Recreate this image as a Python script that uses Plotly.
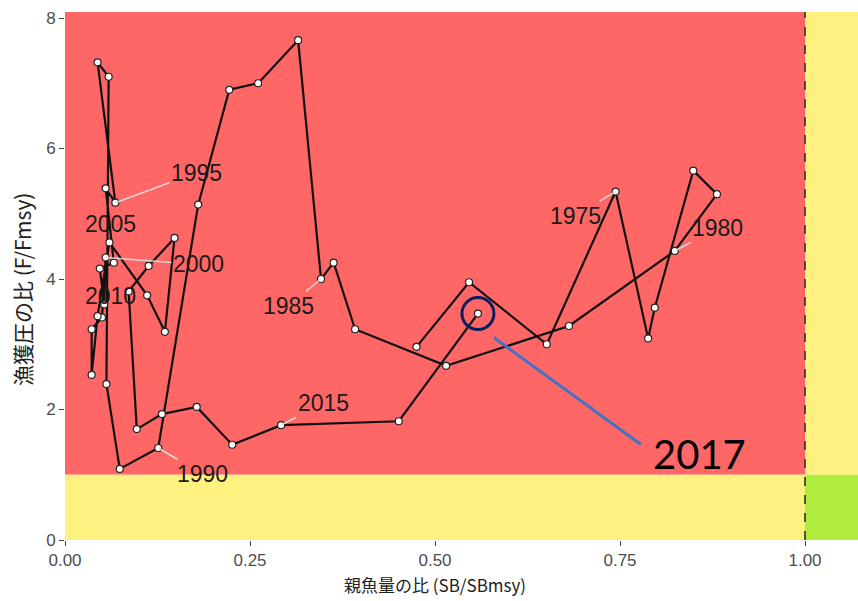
import plotly.graph_objects as go

# ---- data ----
years = list(range(1972, 2018))
sb_ratio = [0.475, 0.546, 0.651, 0.744, 0.788, 0.797, 0.849, 0.881, 0.824, 0.681,
            0.515, 0.392, 0.363, 0.346, 0.315, 0.261, 0.222, 0.180, 0.126, 0.074,
            0.056, 0.059, 0.044, 0.068, 0.055, 0.066, 0.047, 0.053, 0.055, 0.050,
            0.036, 0.036, 0.044, 0.060, 0.111, 0.135, 0.148, 0.113, 0.086, 0.097,
            0.131, 0.178, 0.226, 0.292, 0.451, 0.558]
f_ratio = [2.96, 3.95, 3.00, 5.34, 3.09, 3.56, 5.66, 5.30, 4.43, 3.28,
           2.67, 3.23, 4.25, 4.00, 7.66, 7.00, 6.90, 5.14, 1.41, 1.09,
           2.39, 7.10, 7.32, 5.17, 5.39, 4.25, 4.16, 3.61, 4.33, 3.41,
           3.23, 2.53, 3.43, 4.56, 3.75, 3.19, 4.63, 4.20, 3.81, 1.70,
           1.93, 2.04, 1.46, 1.76, 1.82, 3.47]
label_years = [1975, 1980, 1985, 1990, 1995, 2000, 2005, 2010, 2015]
x_ticks = [0.0, 0.25, 0.50, 0.75, 1.00]
x_ticklabels = ["0.00", "0.25", "0.50", "0.75", "1.00"]
y_ticks = [0, 2, 4, 6, 8]
highlight_year = 2017

# ---- styling / layout constants ----
XMAX = 1.0716
YMAX = 8.092
RED = "#FF6767"
YELLOW = "#FFF17F"
GREEN = "#B1EC3C"
LABEL_FONT = dict(family="Liberation Sans, Arial", size=23, color="#1a1a1a")

fig = go.Figure()

# background zones
fig.add_shape(type="rect", xref="x", yref="y", x0=0, x1=1, y0=1, y1=YMAX,
              fillcolor=RED, line_width=0, layer="below")
fig.add_shape(type="rect", xref="x", yref="y", x0=0, x1=1, y0=0, y1=1,
              fillcolor=YELLOW, line_width=0, layer="below")
fig.add_shape(type="rect", xref="x", yref="y", x0=1, x1=XMAX, y0=1, y1=YMAX,
              fillcolor=YELLOW, line_width=0, layer="below")
fig.add_shape(type="rect", xref="x", yref="y", x0=1, x1=XMAX, y0=0, y1=1,
              fillcolor=GREEN, line_width=0, layer="below")
fig.add_shape(type="line", xref="x", yref="y", x0=1, x1=1, y0=0, y1=YMAX,
              line=dict(color="#2a332a", width=1.6, dash="dash"), layer="below")

fig.add_trace(go.Scatter(
    x=sb_ratio, y=f_ratio, mode="lines+markers",
    line=dict(color="#111111", width=2.2),
    marker=dict(size=7, color="white", line=dict(color="#222222", width=1.2)),
    hoverinfo="skip", showlegend=False))

# year labels (ggrepel-like), offsets in pixels
label_offsets = {
    1975: (-40, 24, True),
    1980: (43, -23, True),
    1985: (-33, 27, True),
    1990: (44, 26, True),
    1995: (81, -30, True),
    2000: (93, 7, True),
    2005: (1, -18, False),
    2010: (-18, 5, False),
    2015: (42, -22, True),
}
for yr in label_years:
    i = years.index(yr)
    ax, ay, arrow = label_offsets[yr]
    if arrow:
        fig.add_annotation(x=sb_ratio[i], y=f_ratio[i], text=str(yr),
                           showarrow=True, arrowhead=0, arrowwidth=1.6,
                           arrowcolor="rgba(225,225,225,0.9)", ax=ax, ay=ay,
                           font=LABEL_FONT)
    else:
        fig.add_annotation(x=sb_ratio[i], y=f_ratio[i], text=str(yr),
                           showarrow=False, xshift=ax, yshift=-ay,
                           font=LABEL_FONT)

# highlight of latest year
hi = years.index(highlight_year)
hx, hy = sb_ratio[hi], f_ratio[hi]
fig.add_shape(type="circle", xref="x", yref="y", xsizemode="pixel", ysizemode="pixel",
              xanchor=hx, yanchor=hy, x0=-16, x1=16, y0=-16, y1=16,
              line=dict(color="#0B1F5C", width=3))
fig.add_shape(type="line", xref="x", yref="y", xsizemode="pixel", ysizemode="pixel",
              xanchor=hx, yanchor=hy, x0=16, y0=-24, x1=163, y1=-131,
              line=dict(color="#4472C4", width=3))
fig.add_annotation(x=hx, y=hy, text=str(highlight_year), showarrow=False,
                   xshift=222, yshift=-140,
                   font=dict(family="Lato, Liberation Sans", size=40, color="#000000"))

# axis titles
fig.add_annotation(xref="paper", yref="paper", x=0.4666, y=-0.0835,
                   text="親魚量の比 (SB/SBmsy)", showarrow=False, yanchor="middle",
                   font=dict(family="Noto Sans CJK JP", size=17, color="#222222"))
fig.add_annotation(xref="paper", yref="paper", x=-0.0542, y=0.4735,
                   text="漁獲圧の比 (F/Fmsy)", showarrow=False, textangle=-90,
                   xanchor="center", yanchor="middle",
                   font=dict(family="Noto Sans CJK JP", size=21, color="#222222"))

fig.update_layout(
    width=858, height=601,
    margin=dict(l=65, r=0, t=12, b=61),
    plot_bgcolor="white", paper_bgcolor="white",
    showlegend=False,
    xaxis=dict(range=[0, XMAX], tickvals=x_ticks, ticktext=x_ticklabels,
               ticks="outside", ticklen=5, tickwidth=1.2, tickcolor="#444444",
               showgrid=False, zeroline=False, showline=False,
               tickfont=dict(family="Liberation Sans, Arial", size=17, color="#4d4d4d")),
    yaxis=dict(range=[0, YMAX], tickvals=y_ticks,
               ticks="outside", ticklen=5, tickwidth=1.2, tickcolor="#444444",
               showgrid=False, zeroline=False, showline=False,
               tickfont=dict(family="Liberation Sans, Arial", size=17, color="#4d4d4d")),
)

fig.write_html("out.html", config={"displayModeBar": False},
               post_script="document.body.style.margin='0';document.body.style.overflow='hidden';")
